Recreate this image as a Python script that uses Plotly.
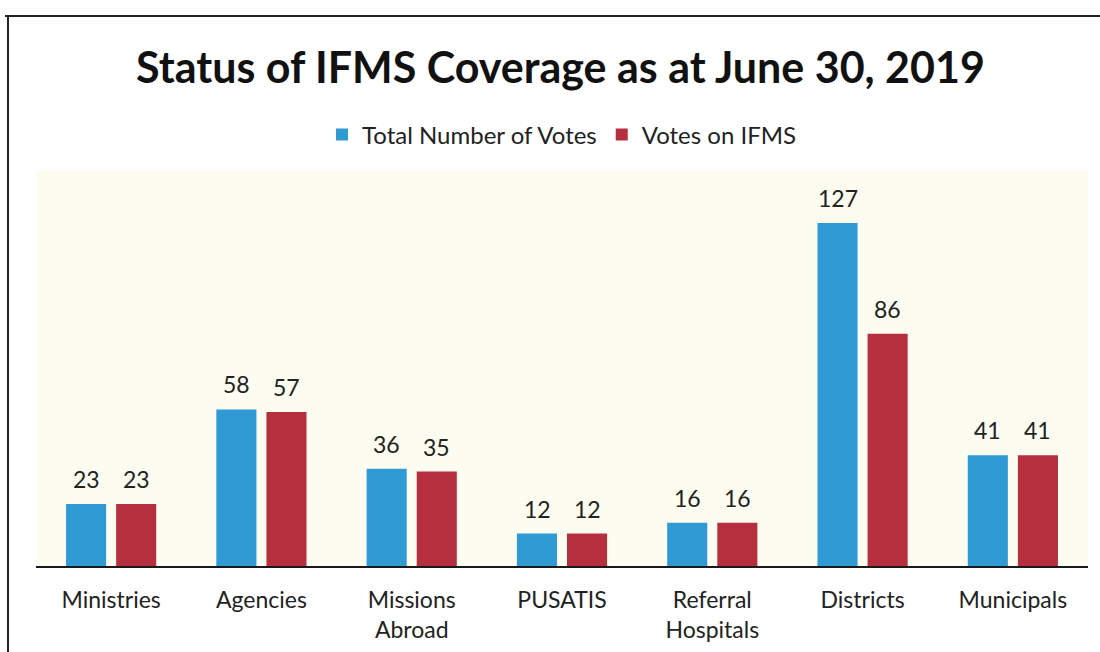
import plotly.graph_objects as go

# Vote categories and counts
categories = ["Ministries", "Agencies", "Missions<br>Abroad", "PUSATIS",
              "Referral<br>Hospitals", "Districts", "Municipals"]
total_votes = [23, 58, 36, 12, 16, 127, 41]
votes_on_ifms = [23, 57, 35, 12, 16, 86, 41]

series_names = ["Total Number of Votes", "Votes on IFMS"]
series_colors = ["#2f9ad3", "#b52f3e"]

FONT = "Lato"
TEXT_COLOR = "#222222"

fig = go.Figure()
for name, vals, color in zip(series_names, [total_votes, votes_on_ifms], series_colors):
    fig.add_trace(go.Bar(
        name=name, x=categories, y=vals,
        marker=dict(color=color, line=dict(width=0)),
    ))

# Value labels above each bar (offset to the left/right bar of the pair)
annotations = []
for shift, vals in zip([-25, 25], [total_votes, votes_on_ifms]):
    for cat, v in zip(categories, vals):
        annotations.append(dict(
            x=cat, y=v, xref="x", yref="y", text=str(v), showarrow=False,
            xshift=shift, yshift=9, yanchor="bottom",
            font=dict(family=FONT, size=23, color=TEXT_COLOR),
        ))

plot_top, plot_bottom = 170, 566
plot_h = plot_bottom - plot_top
px_per_unit = 2.70

fig.update_layout(
    width=1100, height=652,
    margin=dict(l=36, r=12, t=plot_top, b=652 - plot_bottom),
    paper_bgcolor="white",
    plot_bgcolor="#fcfcf1",
    barmode="group", bargap=1/3, bargroupgap=0.2,
    title=dict(
        text="<b>Status of IFMS Coverage as at June 30, 2019</b>",
        x=0.5095, xanchor="center", y=1 - 68/652, yanchor="middle",
        font=dict(family=FONT, size=43, color="#111111"),
    ),
    legend=dict(
        orientation="h", x=0.5, xanchor="center",
        y=(plot_bottom - 135) / plot_h, yanchor="middle",
        font=dict(family=FONT, size=24, color=TEXT_COLOR),
        bgcolor="rgba(0,0,0,0)", itemwidth=30,
    ),
    xaxis=dict(
        showline=True, linecolor="#1a1a1a", linewidth=2,
        ticks="outside", ticklen=12, tickcolor="rgba(0,0,0,0)",
        tickfont=dict(family=FONT, size=23, color=TEXT_COLOR),
        showgrid=False, fixedrange=True, automargin=False,
    ),
    yaxis=dict(
        range=[0, plot_h / px_per_unit], visible=False, showgrid=False,
        automargin=False,
    ),
    annotations=annotations,
    shapes=[
        # frame lines along the top and left
        dict(type="line", xref="paper", yref="paper",
             x0=(5 - 36) / 1052, x1=(1100 - 36) / 1052,
             y0=(plot_bottom - 16) / plot_h, y1=(plot_bottom - 16) / plot_h,
             line=dict(color="#222222", width=2)),
        dict(type="line", xref="paper", yref="paper",
             x0=(8 - 36) / 1052, x1=(8 - 36) / 1052,
             y0=(plot_bottom - 16) / plot_h, y1=(plot_bottom - 652) / plot_h,
             line=dict(color="#222222", width=2)),
    ],
)

fig.write_html("out.html")
